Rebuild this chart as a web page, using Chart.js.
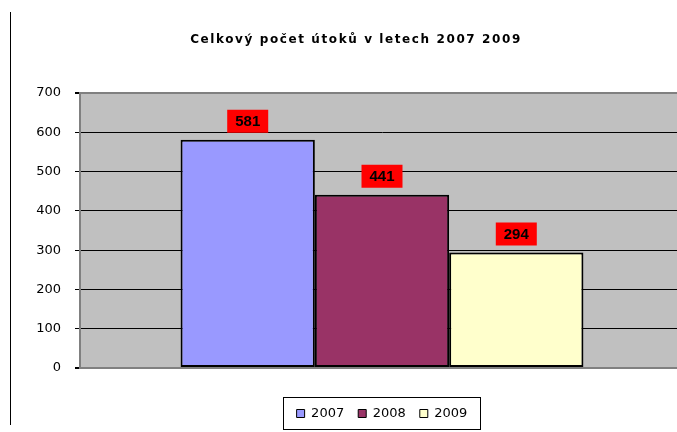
<!DOCTYPE html>
<html>
<head>
<meta charset="utf-8">
<script src="https://cdn.jsdelivr.net/npm/chart.js@4"></script>
<style>
  html, body { margin: 0; padding: 0; background: #fff; overflow: hidden; }
  #wrap { position: relative; width: 677px; height: 432px; overflow: hidden; }
  #frame { position: absolute; left: 10px; top: 12px; height: 413px; border-left: 1px solid #000; }
  #chart { position: absolute; left: 0; top: 0; }
</style>
</head>
<body>
<div id="wrap">
  <div id="frame"></div>
  <canvas id="chart" width="684" height="432"></canvas>
</div>
<script>
const chartTitle = "Celkový počet útoků v letech 2007 2009";
const years = ["2007", "2008", "2009"];
const attacks = [581, 441, 294];
const yTicks = [0, 100, 200, 300, 400, 500, 600, 700];
const barColors = ["#9999ff", "#993366", "#ffffcc"];

const plotBackground = {
  id: "plotBackground",
  beforeDraw(chart) {
    const { ctx, chartArea: a } = chart;
    ctx.save();
    ctx.fillStyle = "#c0c0c0";
    ctx.fillRect(a.left, a.top, a.right - a.left, a.bottom - a.top);
    ctx.restore();
  }
};

// title drawn by hand so it can get the wide letter spacing of the original
const spacedTitle = {
  id: "spacedTitle",
  afterDraw(chart) {
    const { ctx, chartArea: a } = chart;
    ctx.save();
    ctx.font = "bold 12px 'DejaVu Sans', sans-serif";
    ctx.letterSpacing = "1.6px";
    ctx.fillStyle = "#000";
    ctx.textAlign = "center";
    ctx.textBaseline = "middle";
    ctx.fillText(chartTitle, (a.left + a.right) / 2 - 26, 40);
    ctx.restore();
  }
};

const valueBoxes = {
  id: "valueBoxes",
  afterDatasetsDraw(chart) {
    const { ctx } = chart;
    ctx.save();
    ctx.font = "bold 15px 'Liberation Sans', Arial, sans-serif";
    ctx.textAlign = "center";
    ctx.textBaseline = "middle";
    chart.data.datasets.forEach((ds, i) => {
      const bar = chart.getDatasetMeta(i).data[0];
      const w = 41, h = 23;
      const bottom = bar.y - 7;
      ctx.fillStyle = "#ff0000";
      ctx.fillRect(bar.x - w / 2, bottom - h, w, h);
      ctx.fillStyle = "#000";
      ctx.fillText(String(ds.data[0]), bar.x, bottom - h / 2 + 1);
    });
    ctx.restore();
  }
};

// legend is centred under the plot, not the canvas, and framed
const legendFrame = {
  id: "legendFrame",
  afterLayout(chart) {
    chart.legend.left = chart.chartArea.left;
  },
  afterDraw(chart) {
    const lg = chart.legend;
    const pad = lg.options.labels.padding;
    const lineWidth = lg.lineWidths ? lg.lineWidths[0] : 180;
    const start = (lg.left + pad + lg.right - lineWidth) / 2;
    const left = start - 14;
    const right = start + lineWidth - pad + 12;
    const mid = lg.top + lg.height / 2;
    const { ctx } = chart;
    ctx.save();
    ctx.strokeStyle = "#000";
    ctx.lineWidth = 1;
    ctx.strokeRect(Math.round(left) + 0.5, Math.round(mid - 15) + 0.5, Math.round(right - left), 32);
    ctx.restore();
  }
};

new Chart(document.getElementById("chart"), {
  type: "bar",
  data: {
    labels: [""],
    datasets: years.map((y, i) => ({
      label: y,
      data: [attacks[i]],
      backgroundColor: barColors[i],
      borderColor: "#000",
      borderWidth: 2,
      borderSkipped: false,
      categoryPercentage: 0.667,
      barPercentage: 1.0
    }))
  },
  options: {
    responsive: false,
    animation: false,
    layout: { padding: { left: 0, right: 0, top: 93, bottom: 2 } },
    plugins: {
      title: { display: false },
      legend: {
        position: "bottom",
        labels: {
          color: "#000",
          font: { family: "'DejaVu Sans', sans-serif", size: 13 },
          boxWidth: 8,
          boxHeight: 8,
          padding: 14,
          generateLabels(chart) {
            return chart.data.datasets.map((ds, i) => ({
              text: ds.label,
              fillStyle: ds.backgroundColor,
              strokeStyle: "#000",
              lineWidth: 1,
              datasetIndex: i
            }));
          }
        }
      },
      tooltip: { enabled: false }
    },
    scales: {
      x: {
        display: true,
        grid: { display: false },
        border: { display: false },
        ticks: { display: false },
        afterFit(scale) {
          scale.height = 25;
        }
      },
      y: {
        min: 0,
        max: 700,
        afterBuildTicks(scale) {
          scale.ticks = yTicks.map((v) => ({ value: v }));
        },
        afterFit(scale) {
          scale.width = 80;
        },
        border: { display: true, color: "#808080", width: 2 },
        grid: {
          color: (c) => (c.tick && (c.tick.value === 0 || c.tick.value === 700) ? "#808080" : "#000"),
          lineWidth: (c) => (c.tick && (c.tick.value === 0 || c.tick.value === 700) ? 2 : 1),
          tickColor: "#000",
          tickLength: 5,
          drawTicks: true
        },
        ticks: {
          color: "#000",
          padding: 14,
          font: { family: "'DejaVu Sans', sans-serif", size: 13 }
        }
      }
    }
  },
  plugins: [plotBackground, spacedTitle, valueBoxes, legendFrame]
});
</script>
</body>
</html>
